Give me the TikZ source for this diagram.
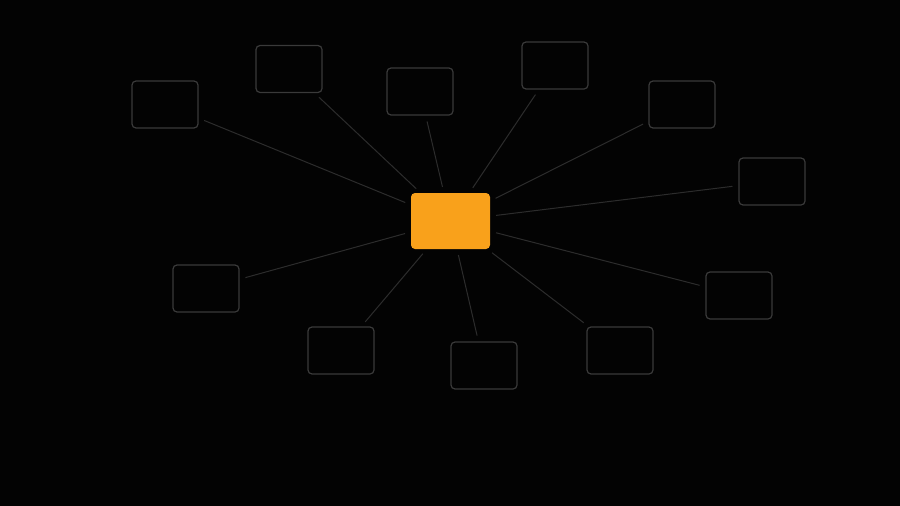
\documentclass[tikz,border=0pt]{standalone}
\begin{document}
\begin{tikzpicture}[x=1pt,y=-1pt,
  leaf/.style={draw=leafgray,line width=1.2pt,rounded corners=4pt,minimum width=66pt,minimum height=47pt,inner sep=0pt},
  hub/.style={fill=huborange,rounded corners=4pt,minimum width=79pt,minimum height=56pt,inner sep=0pt},
  spoke/.style={draw=linegray,line width=1pt,shorten >=6pt,shorten <=6pt}]
\definecolor{leafgray}{HTML}{3A3A3A}
\definecolor{linegray}{HTML}{2C2C2C}
\definecolor{huborange}{HTML}{F9A11B}
\fill[black!99] (0,0) rectangle (900,506);
\useasboundingbox (0,0) rectangle (900,506);
\node[hub] (c) at (450.5,221) {};
\node[leaf] (b1) at (165,104.5) {};
\node[leaf] (b2) at (289,69) {};
\node[leaf] (b3) at (420,91.5) {};
\node[leaf] (b4) at (555,65.5) {};
\node[leaf] (b5) at (682,104.5) {};
\node[leaf] (b6) at (772,181.5) {};
\node[leaf] (b7) at (739,295.5) {};
\node[leaf] (b8) at (620,350.5) {};
\node[leaf] (b9) at (484,365.5) {};
\node[leaf] (b10) at (341,350.5) {};
\node[leaf] (b11) at (206,288.5) {};
\foreach \i in {1,...,11} {\draw[spoke] (c) -- (b\i);}
\end{tikzpicture}
\end{document}
